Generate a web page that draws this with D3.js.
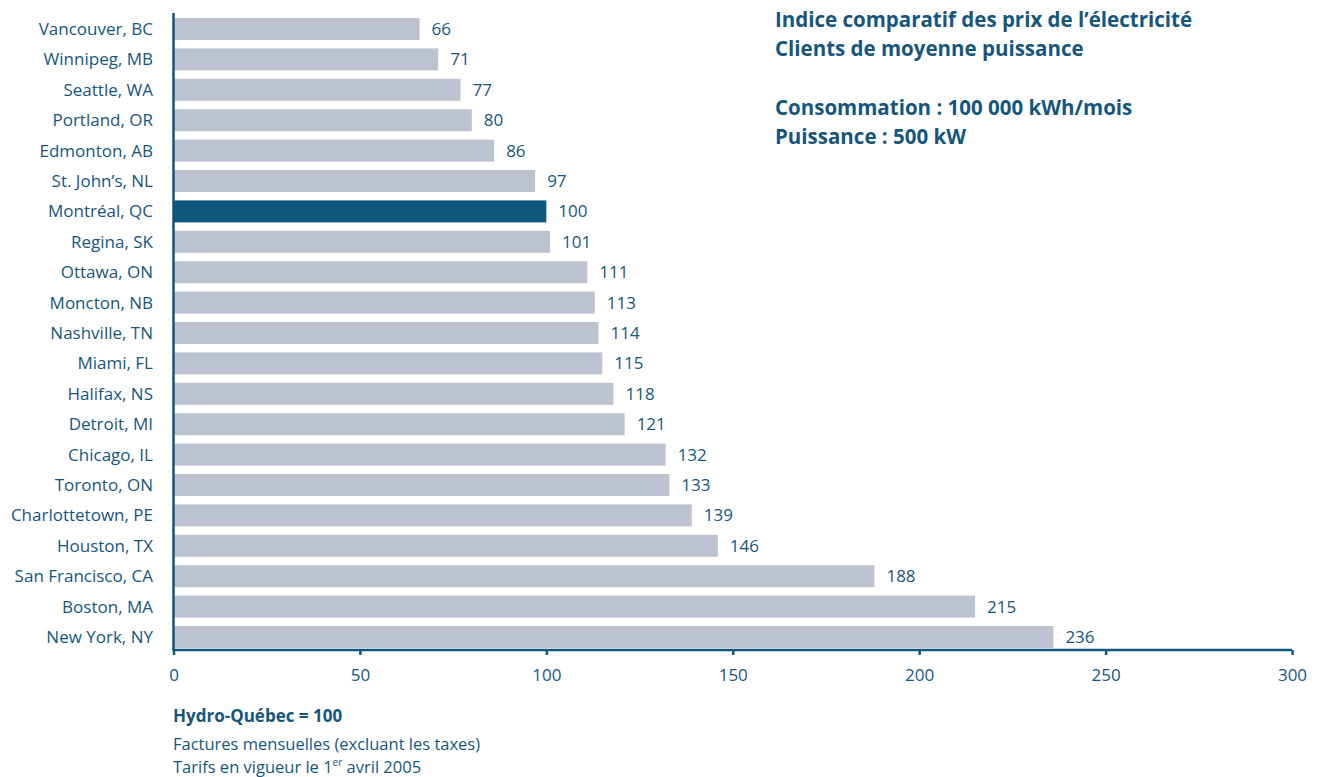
<!DOCTYPE html>
<html>
<head>
<meta charset="utf-8">
<script src="https://cdn.jsdelivr.net/npm/d3@7"></script>
<style>
  body { margin: 0; background: #fff; }
  text { font-family: "Open Sans", "Noto Sans", sans-serif; fill: #17567c; }
</style>
</head>
<body>
<div id="chart"></div>
<script>
// data

var cities = ["Vancouver, BC", "Winnipeg, MB", "Seattle, WA", "Portland, OR", "Edmonton, AB",
  "St. John\u2019s, NL", "Montréal, QC", "Regina, SK", "Ottawa, ON", "Moncton, NB", "Nashville, TN",
  "Miami, FL", "Halifax, NS", "Detroit, MI", "Chicago, IL", "Toronto, ON", "Charlottetown, PE",
  "Houston, TX", "San Francisco, CA", "Boston, MA", "New York, NY"];
var indexValues = [66, 71, 77, 80, 86, 97, 100, 101, 111, 113, 114, 115, 118, 121, 132, 133, 139, 146, 188, 215, 236];
var xTicks = [0, 50, 100, 150, 200, 250, 300];
var highlight = "Montréal, QC";

var titleLines = ["Indice comparatif des prix de l\u2019électricité", "Clients de moyenne puissance"];
var subtitleLines = ["Consommation : 100 000 kWh/mois", "Puissance : 500 kW"];

var svgWidth = 1317;
var svgHeight = 777;

var svg = d3.select("#chart")
  .append("svg")
  .attr("width", svgWidth)
  .attr("height", svgHeight);

var xScale = d3.scaleLinear()
  .domain([0, 300])
  .range([173.5, 1292]);

var yScale = d3.scaleBand()
  .domain(cities)
  .range([18, 648])
  .paddingInner(0.276)
  .paddingOuter(0);

var chartGroup = svg.append("g");

// bars
chartGroup.selectAll("rect.bar")
  .data(cities)
  .enter()
  .append("rect")
  .attr("class", "bar")
  .attr("x", xScale(0))
  .attr("y", d => yScale(d))
  .attr("width", (d, i) => xScale(indexValues[i]) - xScale(0))
  .attr("height", yScale.bandwidth())
  .attr("fill", d => d == highlight ? "#0f577d" : "#bcc2cf");

// value labels
chartGroup.selectAll("text.val")
  .data(cities)
  .enter()
  .append("text")
  .attr("class", "val")
  .attr("x", (d, i) => xScale(indexValues[i]) + 12)
  .attr("y", d => yScale(d) + yScale.bandwidth() / 2)
  .attr("dy", "0.35em")
  .attr("font-size", 17)
  .text((d, i) => indexValues[i]);

// city labels
chartGroup.selectAll("text.city")
  .data(cities)
  .enter()
  .append("text")
  .attr("class", "city")
  .attr("x", 153)
  .attr("y", d => yScale(d) + yScale.bandwidth() / 2)
  .attr("dy", "0.35em")
  .attr("text-anchor", "end")
  .attr("font-size", 17)
  .text(d => d);

// y axis line
chartGroup.append("line")
  .attr("x1", xScale(0)).attr("x2", xScale(0))
  .attr("y1", 13).attr("y2", 651)
  .attr("stroke", "#0f577d")
  .attr("stroke-width", 2.5);

// x axis
var xAxis = d3.axisBottom(xScale)
  .tickValues(xTicks)
  .tickSize(5)
  .tickPadding(14);

var xg = chartGroup.append("g")
  .attr("transform", "translate(0,650)")
  .call(xAxis);
xg.select(".domain").attr("stroke", "#0f577d").attr("stroke-width", 2.5)
  .attr("d", "M" + xScale(0) + ",0H" + xScale(300));
xg.selectAll(".tick line").attr("stroke", "#0f577d").attr("stroke-width", 2.5);
xg.selectAll(".tick text")
  .attr("font-size", 17)
  .style("font-family", '"Open Sans", "Noto Sans", sans-serif')
  .attr("fill", "#17567c");

// title block
var title = svg.append("g").attr("transform", "translate(775,0)");
title.selectAll("text.t")
  .data(titleLines)
  .enter()
  .append("text")
  .attr("y", (d, i) => 27 + i * 29)
  .attr("font-size", 20.5)
  .attr("font-weight", "bold")
  .text(d => d);
title.selectAll("text.s")
  .data(subtitleLines)
  .enter()
  .append("text")
  .attr("y", (d, i) => 115 + i * 29)
  .attr("font-size", 20.5)
  .attr("font-weight", "bold")
  .text(d => d);

// notes
svg.append("text")
  .attr("x", 173).attr("y", 722)
  .attr("font-size", 17)
  .attr("font-weight", "bold")
  .text("Hydro-Québec = 100");
svg.append("text")
  .attr("x", 173).attr("y", 750)
  .attr("font-size", 16.5)
  .text("Factures mensuelles (excluant les taxes)");
var note = svg.append("text")
  .attr("x", 173).attr("y", 773)
  .attr("font-size", 16.5)
  .text("Tarifs en vigueur le 1");
note.append("tspan").attr("font-size", 10).attr("dy", -7).text("er");
note.append("tspan").attr("dy", 7).text(" avril 2005");
</script>
</body>
</html>
